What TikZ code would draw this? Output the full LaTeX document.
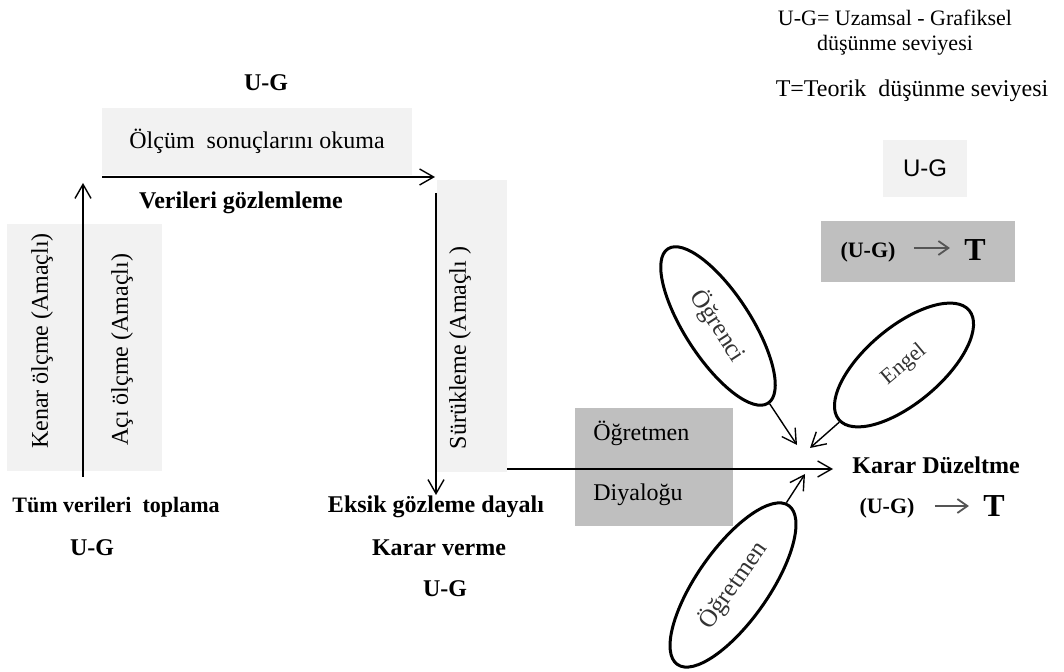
\documentclass[tikz,border=0pt]{standalone}
\usepackage{fontspec}
\setmainfont{Liberation Serif}
\newfontfamily\arialfont{Liberation Sans}
\usepackage{xcolor}
\usetikzlibrary{arrows.meta, shapes.geometric}
\definecolor{lightbox}{HTML}{F2F2F2}
\definecolor{darkbox}{HTML}{BFBFBF}
\definecolor{arrowgray}{HTML}{555555}

\begin{document}
\begin{tikzpicture}[x=0.5pt, y=-0.5pt,
    label/.style={inner sep=0pt, font=\fontsize{12}{14}\selectfont\bfseries},
    plain/.style={inner sep=0pt, font=\fontsize{12}{14}\selectfont},
    legend/.style={inner sep=0pt, font=\fontsize{11}{13}\selectfont},
    lightpanel/.style={rectangle, fill=lightbox, inner sep=0pt},
    darkpanel/.style={rectangle, fill=darkbox, inner sep=0pt},
    vtext/.style={inner sep=0pt, rotate=90, font=\fontsize{12}{14}\selectfont},
    actor/.style={ellipse, draw=black, line width=1.5pt, inner sep=0pt, font=\fontsize{12.5}{14}\selectfont, text=black!80},
    arrow/.style={-{Straight Barb[length=7pt,width=8pt]}, line width=0.7pt},
    grayarrow/.style={-{Straight Barb[length=5pt,width=7pt]}, line width=0.9pt, color=arrowgray},
    small/.style={inner sep=0pt, font=\fontsize{11}{13}\selectfont\bfseries},
    big/.style={inner sep=0pt, font=\fontsize{16}{18}\selectfont\bfseries}
]
\useasboundingbox (0,0) rectangle (1064,672);

% panels
\node[lightpanel, minimum width=155pt, minimum height=33.5pt] (olcum) at (257,141.5) {};
\node[lightpanel, minimum width=77.5pt, minimum height=123.5pt] (leftbox) at (84.5,347.5) {};
\node[lightpanel, minimum width=35pt, minimum height=146pt] (surbox) at (472,326) {};
\node[darkpanel, minimum width=79pt, minimum height=59pt] (diyalog) at (654,467) {};
\node[lightpanel, minimum width=42pt, minimum height=28.5pt, font=\arialfont\fontsize{12}{14}\selectfont] (ugbox) at (925,168.5) {U-G};
\node[darkpanel, minimum width=97pt, minimum height=30.5pt] (tbox) at (918,251.5) {};

% texts
\node[label] (ugtop) at (266,83) {U-G};
\node[plain] at (olcum) {Ölçüm\ \ sonuçlarını okuma};
\node[label] (verileri) at (241,203) {Verileri gözlemleme};
\node[vtext] (kenar) at (42,341) {Kenar ölçme (Amaçlı)};
\node[vtext] (aci) at (122,350) {Açı ölçme (Amaçlı)};
\node[vtext] (surtext) at (460,348) {Sürükleme (Amaçlı )};
\node[label, font=\fontsize{11}{13}\selectfont\bfseries] (tum) at (116,507) {Tüm verileri\ \ toplama};
\node[label] (ugleft) at (92,548) {U-G};
\node[label] (eksik) at (436,507) {Eksik gözleme dayalı};
\node[label] (karar) at (439,548) {Karar verme};
\node[label] (ugmid) at (445,589) {U-G};
\node[plain, anchor=west] (ogretmen1) at (593,433) {Öğretmen};
\node[plain, anchor=west] (diyalogu) at (593,495) {Diyaloğu};
\node[label] (duzeltme) at (936,465) {Karar Düzeltme};
\node[small] (ugB) at (887,508) {(U-G)};
\node[big] (tB) at (994,506) {T};

% legend
\node[legend] (leg1) at (895,18) {U-G= Uzamsal - Grafiksel};
\node[legend] (leg2) at (895,45) {düşünme seviyesi};
\node[plain] (leg3) at (912,91) {T=Teorik\ \ düşünme seviyesi};
\node[small] (ugA) at (868,252) {(U-G)};
\node[big] (tA) at (975,250) {T};

% actors
\node[actor, minimum width=92pt, minimum height=33pt, rotate=-57] (ogrenci) at (718,326) {Öğrenci};
\node[actor, minimum width=85pt, minimum height=38pt, rotate=40, font=\fontsize{11}{13}\selectfont] (engel) at (904,365) {Engel};
\node[actor, minimum width=97pt, minimum height=36pt, rotate=55] (ogretmen) at (733,585) {Öğretmen};

% connectors
\coordinate (upS) at (83,477);
\coordinate (upE) at (83,183);
\coordinate (topS) at (102,177);
\coordinate (topE) at (435,177);
\coordinate (downS) at (436,193);
\coordinate (downE) at (436,495);
\coordinate (longS) at (507,469);
\coordinate (longE) at (833,469);
\coordinate (tipA) at (797,445);
\coordinate (tipB) at (810,448);
\coordinate (tipC) at (805,474);

\draw[arrow] (upS) -- (upE);
\draw[arrow] (topS) -- (topE);
\draw[arrow] (downS) -- (downE);
\draw[arrow] (longS) -- (longE);
\draw[arrow] (ogrenci) -- (tipA);
\draw[arrow] (engel) -- (tipB);
\draw[arrow] (ogretmen) -- (tipC);
\draw[grayarrow, shorten <=9pt, shorten >=7pt] (ugA.east |- 0,248) -- (tA.west |- 0,248);
\draw[grayarrow, shorten <=10pt, shorten >=7pt] (ugB.east |- 0,506) -- (tB.west |- 0,506);
\end{tikzpicture}
\end{document}
